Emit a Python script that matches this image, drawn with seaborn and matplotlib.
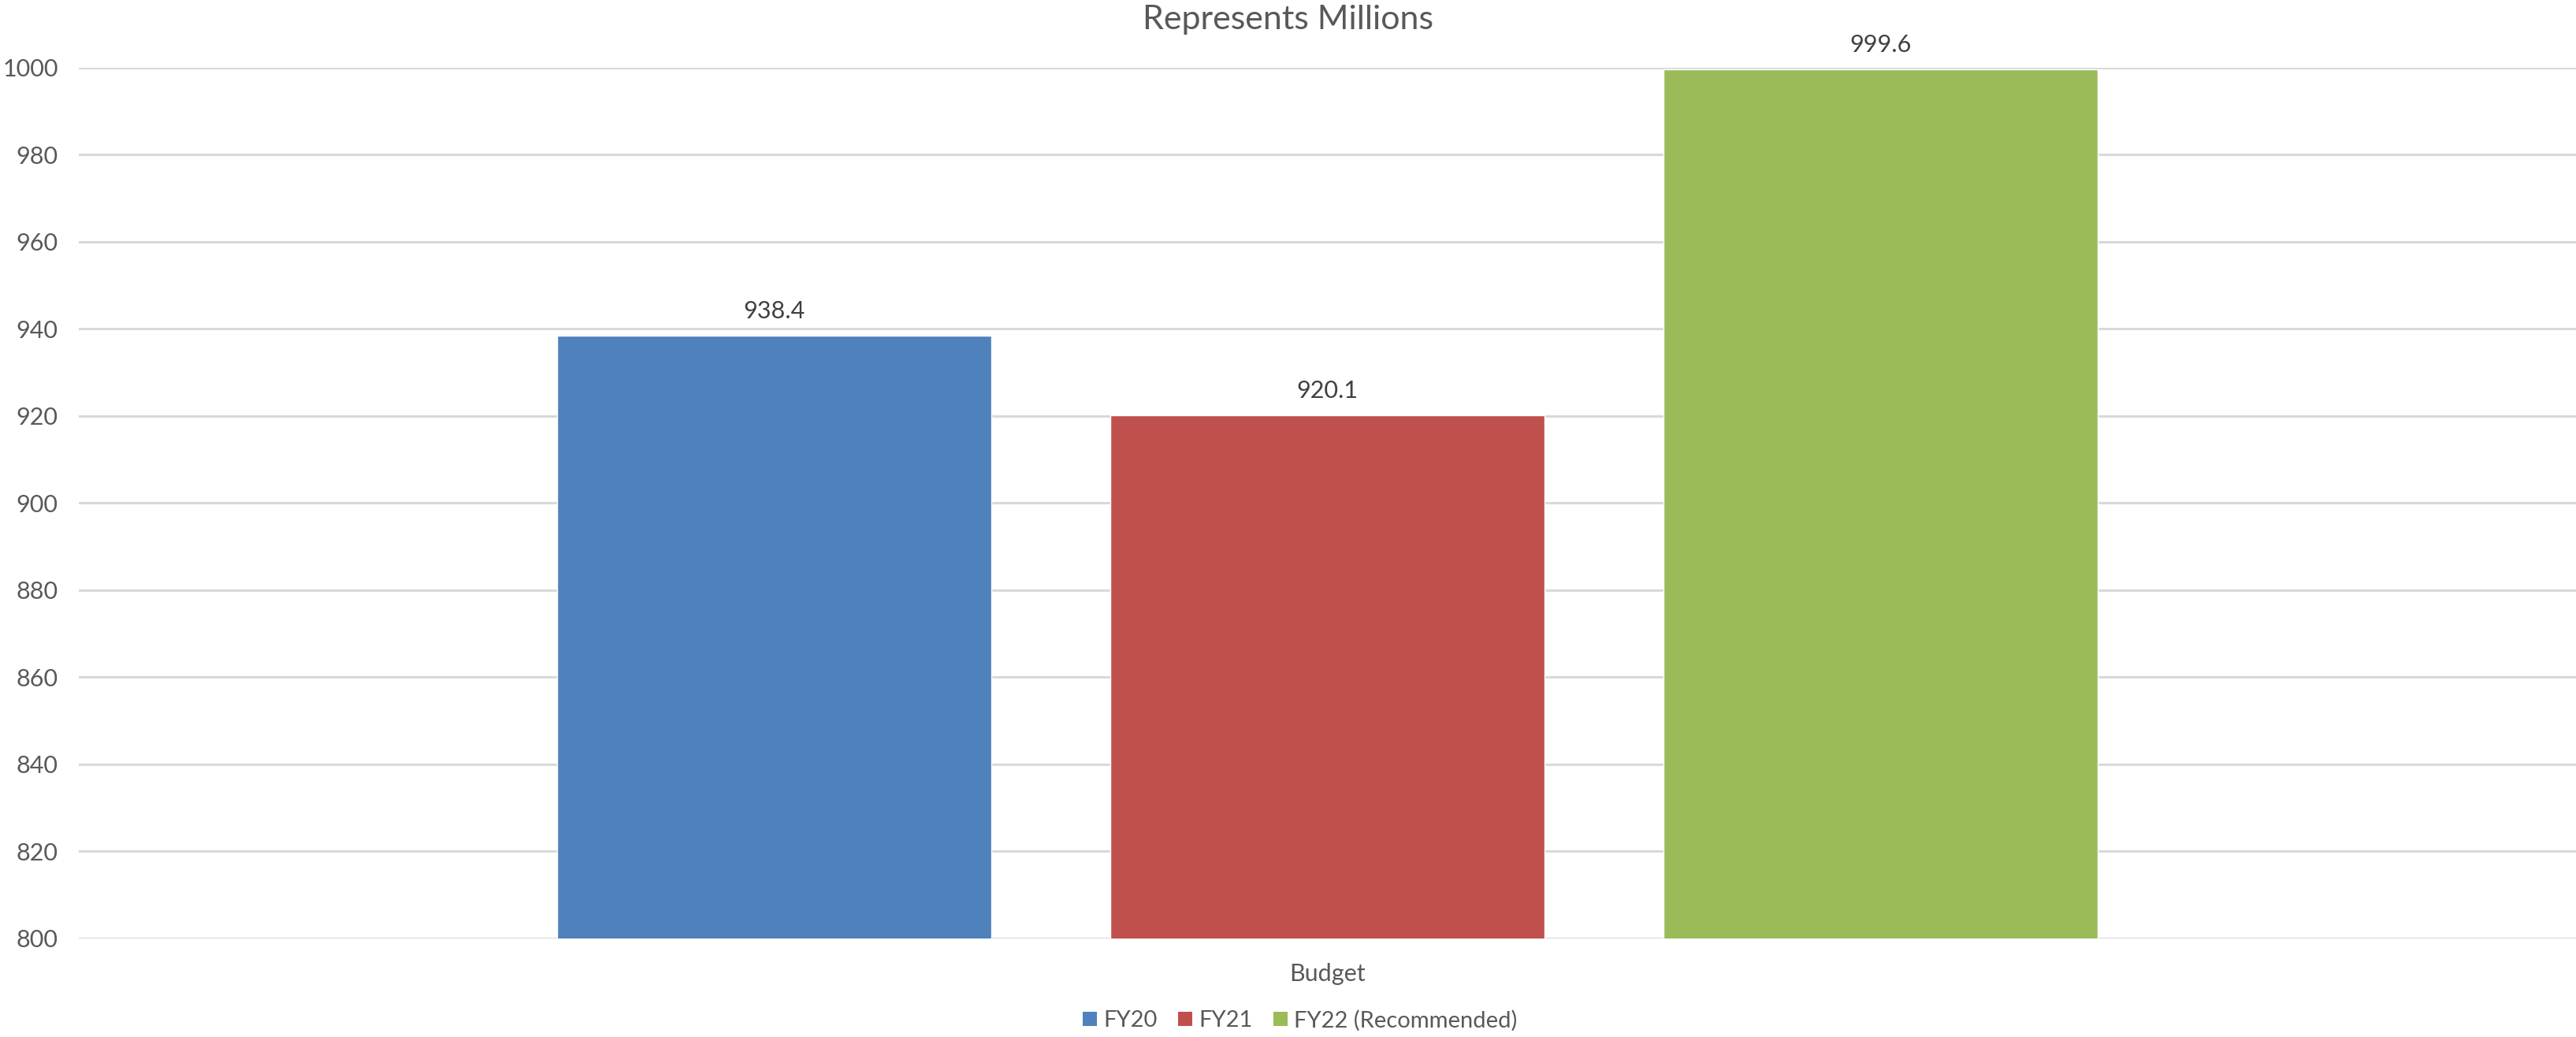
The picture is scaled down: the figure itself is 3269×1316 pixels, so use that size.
import matplotlib
matplotlib.use("Agg")
import matplotlib.pyplot as plt
import seaborn as sns
import pandas as pd
from matplotlib.patches import Patch

categories = ["Budget"]
series = ["FY20", "FY21", "FY22 (Recommended)"]
values = [938.4, 920.1, 999.6]
colors = ["#4F81BD", "#C0504D", "#9BBB59"]
yticks = [800, 820, 840, 860, 880, 900, 920, 940, 960, 980, 1000]
title = "Represents Millions"

df = pd.DataFrame({"category": categories * len(series), "series": series, "value": values})

sns.set_theme(style="white")
plt.rcParams["font.family"] = ["Lato", "DejaVu Sans"]
text_color = "#595959"

fig = plt.figure(figsize=(32.69, 13.16), dpi=100)
ax = fig.add_axes([100 / 3269, 1 - 1191 / 1316, 1 - 100 / 3269, (1191 - 85.5) / 1316])

sns.barplot(data=df, x="category", y="value", hue="series", hue_order=series,
            palette=colors, saturation=1, width=0.6645, gap=0.214, ax=ax,
            legend=False, zorder=3)

ax.set_ylim(800, 1000)
ax.set_xlim(-0.5, 0.5)
ax.set_yticks(yticks)
ax.set_yticklabels([str(t) for t in yticks])
ax.yaxis.grid(True, color="#D9D9D9", linewidth=2.2, zorder=0)
ax.set_axisbelow(True)
for s in ax.spines.values():
    s.set_visible(False)
ax.tick_params(axis="both", length=0, labelsize=22, colors=text_color)
ax.tick_params(axis="y", pad=19)
ax.tick_params(axis="x", pad=22, labelsize=22)
ax.set_xlabel("")
ax.set_ylabel("")

for cont in ax.containers:
    ax.bar_label(cont, fmt="%.1f", padding=12, fontsize=22, color="#404040")

fig.text(0.5, 1 - 25 / 1316, title, ha="center", va="center", fontsize=31, color=text_color)

handles = [Patch(facecolor=c, edgecolor="none") for c in colors]
fig.legend(handles, series, loc="center", bbox_to_anchor=(1650 / 3269, 1 - 1295 / 1316),
           ncol=3, frameon=False, fontsize=21, labelcolor=text_color,
           handlelength=0.6, handleheight=0.6, handletextpad=0.3, columnspacing=0.9)

fig.savefig("out.png", dpi=100)
